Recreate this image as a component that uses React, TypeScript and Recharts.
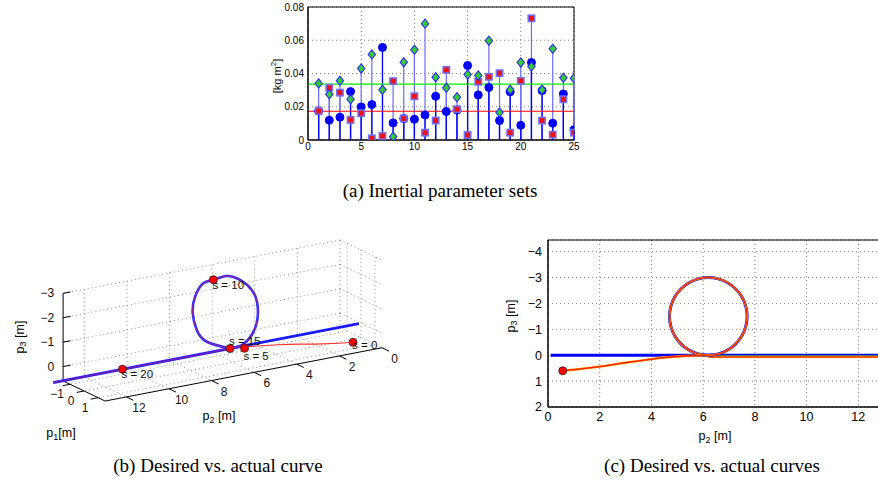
import React from "react";
import {
  ComposedChart, Scatter, Line, XAxis, YAxis, CartesianGrid,
  ReferenceLine, ReferenceArea, ErrorBar,
} from "recharts";

const SANS = "'Liberation Sans', Arial, Helvetica, sans-serif";
const SERIF = "'Liberation Serif', 'Times New Roman', serif";

// ---------- (a) inertial parameter sets ----------
const setIndex = [1, 2, 3, 4, 5, 6, 7, 8, 9, 10, 11, 12, 13, 14, 15, 16, 17, 18, 19, 20, 21, 22, 23, 24, 25];
const setCircle = [0.0175, 0.0119, 0.0137, 0.0291, 0.0199, 0.0213, 0.0557, 0.0103, 0.0129, 0.0125, 0.0151, 0.0263, 0.0171,
  0.018, 0.0448, 0.0271, 0.0316, 0.0117, 0.029, 0.0088, 0.0466, 0.0297, 0.0101, 0.0277, 0.0062];
const setSquare = [0.0175, 0.0314, 0.0285, 0.0121, 0.0161, 0.001, 0.0024, 0.0354, 0.0129, 0.0263, 0.0044, 0.0117, 0.0422,
  0.0185, 0.003, 0.035, 0.038, 0.0402, 0.0044, 0.0356, 0.0732, 0.0117, 0.0032, 0.0245, 0.0044];
const setDiamond = [0.034, 0.0275, 0.0356, 0.0245, 0.043, 0.0515, 0.0302, 0.002, 0.0468, 0.0543, 0.07, 0.0378, 0.0314,
  0.0257, 0.0394, 0.0388, 0.0597, 0.0165, 0.0302, 0.0466, 0.0442, 0.0302, 0.0549, 0.0374, 0.0372];
const meanGreen = 0.0336;
const meanRed = 0.0173;
const aXTicks = [0, 5, 10, 15, 20, 25];
const aYTicks = [0, 0.02, 0.04, 0.06, 0.08];

// ---------- (c) p2-p3 plane ----------
const desiredP2 = [0.1, 14.45];
const desiredP3 = [0, 0];
const circleP2 = [6.2, 6.59, 6.95, 7.26, 7.5, 7.65, 7.7, 7.65, 7.5, 7.26, 6.95, 6.59, 6.2, 5.81, 5.45, 5.14, 4.9, 4.75, 4.7, 4.75, 4.9, 5.14, 5.45, 5.81, 6.2];
const circleP3 = [0, -0.05, -0.2, -0.44, -0.75, -1.11, -1.5, -1.89, -2.25, -2.56, -2.8, -2.95, -3, -2.95, -2.8, -2.56, -2.25, -1.89, -1.5, -1.11, -0.75, -0.44, -0.2, -0.05, 0];
const approachP2 = [0.57, 1, 2, 3, 4, 4.5, 5, 5.5, 6, 6.2];
const approachP3 = [0.6, 0.56, 0.44, 0.29, 0.15, 0.09, 0.05, 0.02, 0.005, 0];
const tailP2 = [6.2, 14.45];
const tailGreenP3 = [0.03, 0.03];
const tailRedP3 = [0.07, 0.07];
const cXTicks = [0, 2, 4, 6, 8, 10, 12];
const cYTicks = [-4, -3, -2, -1, 0, 1, 2];

// ---------- (b) 3-D view ----------
const P1_LIM = [-1.5, 1.5];
const P2_LIM = [0, 13];
const P3_LIM = [-3, 0.59];
const p1Ticks = [-1, 0, 1];
const p2Ticks = [0, 2, 4, 6, 8, 10, 12];
const p3Ticks = [-3, -2, -1, 0];
const bDesiredP2 = [0.1, 14.45];
const bLoopP2 = [6.15, 7.24, 7.71, 7.9, 7.79, 7.4, 6.93, 6.31, 5.68, 5.13, 4.87, 4.87, 5.13, 5.6, 6.15];
const bLoopP3 = [0, -0.46, -1.02, -1.74, -2.4, -2.88, -2.95, -3.0, -2.73, -2.23, -1.64, -0.95, -0.38, -0.05, 0];
const bApproachP1 = [0.3, 0.28, 0.25, 0.22, 0.2, 0.15, 0.05, 0];
const bApproachP2 = [0.57, 1, 2, 3, 4, 5, 5.6, 6.15];
const bApproachP3 = [0.6, 0.56, 0.44, 0.29, 0.15, 0.05, 0.02, 0];
const sLabels = ["s = 0", "s = 5", "s = 10", "s = 15", "s = 20"];
const sP1 = [0.3, 0.2, 0, 0, 0];
const sP2 = [0.57, 5.6, 6.93, 6.15, 11.2];
const sP3 = [0.6, 0.03, -2.95, 0, 0];
const S_LABEL_DY = [3, 7.5, 5, -7.5, 5];

// camera (orthographic approximation of the view)
const O = [361, 323.3];
const U1 = [14, 6.7];
const U2 = [-21.3, 4.1];
const U3 = [0, 24.4];
const proj = (a: number, b: number, c: number) => ({
  x: O[0] + a * U1[0] + b * U2[0] + c * U3[0],
  y: O[1] + a * U1[1] + b * U2[1] + c * U3[1],
});

const zip = (xs: number[], ys: number[]) => xs.map((x, i) => ({ x, y: ys[i] }));
const stemRows = (vals: number[]) => setIndex.map((x, i) => ({ x, y: vals[i], err: [vals[i], 0] }));
const minus = (v: number) => (v < 0 ? `\u2212${Math.abs(v)}` : `${v}`);

const noShape = () => <g />;
const circleShape = (p: any) => <circle cx={p.cx} cy={p.cy} r={4} fill="#0000ff" stroke="#0000ff" />;
const squareShape = (p: any) => (
  <rect x={p.cx - 3.2} y={p.cy - 3.2} width={6.4} height={6.4} fill="#ee1111" stroke="#7070ff" strokeWidth={1.5} />
);
const diamondShape = (p: any) => (
  <path d={`M${p.cx},${p.cy - 4.6}L${p.cx + 3.7},${p.cy}L${p.cx},${p.cy + 4.6}L${p.cx - 3.7},${p.cy}Z`}
    fill="#33cc33" stroke="#2b2bff" strokeWidth={1.1} />
);
const redDot = (p: any) => <circle cx={p.cx} cy={p.cy} r={4} fill="#ff0000" stroke="#222" strokeWidth={0.8} />;
const textShape = (p: any) => (
  <text x={p.cx + (p.payload.dx || 0)} y={p.cy + (p.payload.dy || 0)} textAnchor={p.payload.anchor || "start"}
    dominantBaseline="central" fontSize={p.payload.fs || 12} fontFamily={SANS} fill="#111">{p.payload.t}</text>
);

const tickStyle = { fill: "#000", fontSize: 10, fontFamily: SANS };

function PanelA() {
  return (
    <div style={{ position: "absolute", left: 250, top: 0 }}>
      <ComposedChart width={340} height={160} margin={{ top: 7, right: 16, bottom: 0, left: 0 }}>
        <CartesianGrid strokeDasharray="1 3" stroke="#888" />
        <XAxis type="number" dataKey="x" domain={[0, 25]} ticks={aXTicks} allowDataOverflow height={20}
          tick={tickStyle} tickLine={false} tickSize={3} tickMargin={0} axisLine={{ stroke: "#000" }} />
        <YAxis type="number" dataKey="y" domain={[0, 0.08]} ticks={aYTicks} allowDataOverflow width={58}
          tick={tickStyle} tickLine={false} tickSize={3} tickMargin={1} axisLine={{ stroke: "#000" }}
          tickFormatter={(v: number) => (v === 0 ? "0" : v.toFixed(2))} />
        <ReferenceArea x1={0} x2={25} y1={0} y2={0.08} fill="none" stroke="#000" strokeWidth={1} ifOverflow="visible" />
        <Scatter data={stemRows(setDiamond)} shape={noShape} isAnimationActive={false}>
          <ErrorBar dataKey="err" direction="y" width={0} stroke="#6a6aff" strokeWidth={1.2} isAnimationActive={false} />
        </Scatter>
        <Scatter data={stemRows(setSquare)} shape={noShape} isAnimationActive={false}>
          <ErrorBar dataKey="err" direction="y" width={0} stroke="#6a6aff" strokeWidth={1.2} isAnimationActive={false} />
        </Scatter>
        <Scatter data={stemRows(setCircle)} shape={noShape} isAnimationActive={false}>
          <ErrorBar dataKey="err" direction="y" width={0} stroke="#0000ff" strokeWidth={1.3} isAnimationActive={false} />
        </Scatter>
        <ReferenceLine y={meanGreen} stroke="#00ee00" strokeWidth={1.3} />
        <ReferenceLine y={meanRed} stroke="#ff0000" strokeWidth={1.1} />
        <Scatter data={stemRows(setCircle)} shape={circleShape} isAnimationActive={false} />
        <Scatter data={stemRows(setSquare)} shape={squareShape} isAnimationActive={false} />
        <Scatter data={stemRows(setDiamond)} shape={diamondShape} isAnimationActive={false} />
      </ComposedChart>
    </div>
  );
}

function PanelB() {
  const [a0, a1] = P1_LIM;
  const [b0, b1] = P2_LIM;
  const [c0, c1] = P3_LIM;
  const grid = [
    ...p3Ticks.map((c) => [proj(a0, b0, c), proj(a0, b1, c)]),
    ...p2Ticks.map((b) => [proj(a0, b, c0), proj(a0, b, c1)]),
    ...p3Ticks.map((c) => [proj(a0, b0, c), proj(a1, b0, c)]),
    ...p1Ticks.map((a) => [proj(a, b0, c0), proj(a, b0, c1)]),
    ...p2Ticks.map((b) => [proj(a0, b, c1), proj(a1, b, c1)]),
    ...p1Ticks.map((a) => [proj(a, b0, c1), proj(a, b1, c1)]),
  ];
  const axes = [
    [proj(a0, b1, c0), proj(a0, b1, c1)],
    [proj(a0, b1, c1), proj(a1, b1, c1)],
    [proj(a1, b1, c1), proj(a1, b0, c1)],
    ...p2Ticks.map((b) => [proj(a1, b, c1), proj(a1 + 0.5, b, c1)]),
    ...p1Ticks.map((a) => [proj(a, b1, c1), proj(a, b1 + 0.35, c1)]),
    ...p3Ticks.map((c) => [proj(a0, b1, c), proj(a0, b1 - 0.35, c)]),
  ];
  const tickLabels = [
    ...p3Ticks.map((c) => ({ ...proj(a0, b1, c), t: minus(c), anchor: "end", dx: -9, dy: 0 })),
    ...p1Ticks.map((a) => ({ ...proj(a, b1, c1), t: minus(a), anchor: "middle", dx: -13, dy: 10 })),
    ...p2Ticks.map((b) => ({ ...proj(a1, b, c1), t: minus(b), anchor: "middle", dx: 12.6, dy: 11 })),
  ];
  const desired = bDesiredP2.map((b) => proj(0, b, 0));
  const loop = bLoopP2.map((b, i) => proj(0, b, bLoopP3[i]));
  const approach = bApproachP2.map((b, i) => proj(bApproachP1[i], b, bApproachP3[i]));
  const tail = [proj(0, 6.15, 0), proj(0, 14.45, 0)];
  const marks = sLabels.map((t, i) => ({ ...proj(sP1[i], sP2[i], sP3[i]), t, dx: -1, dy: S_LABEL_DY[i], fs: 11.5 }));
  return (
    <div style={{ position: "absolute", left: 0, top: 230 }}>
      <ComposedChart width={440} height={230} margin={{ top: 0, right: 0, bottom: 0, left: 0 }}>
        <XAxis type="number" dataKey="x" domain={[0, 440]} allowDataOverflow hide />
        <YAxis type="number" dataKey="y" domain={[230, 460]} reversed allowDataOverflow hide />
        {grid.map((s, i) => (
          <Line key={`g${i}`} data={s} dataKey="y" stroke="#777" strokeWidth={0.8} strokeDasharray="1 3"
            dot={false} activeDot={false} isAnimationActive={false} />
        ))}
        {axes.map((s, i) => (
          <Line key={`a${i}`} data={s} dataKey="y" stroke="#000" strokeWidth={1} dot={false} activeDot={false}
            isAnimationActive={false} />
        ))}
        <Line data={desired} dataKey="y" stroke="#1a1aff" strokeWidth={2.8} dot={false} isAnimationActive={false} />
        <Line data={tail} dataKey="y" stroke="#d0206a" strokeOpacity={0.55} strokeWidth={1.3} dot={false} isAnimationActive={false} />
        <Line data={approach} dataKey="y" type="natural" stroke="#ff3030" strokeWidth={1.1} dot={false} isAnimationActive={false} />
        <Line data={loop} dataKey="y" type="natural" stroke="#2a2aff" strokeWidth={2.6} dot={false} isAnimationActive={false} />
        <Line data={loop} dataKey="y" type="natural" stroke="#ee2050" strokeOpacity={0.6} strokeWidth={1} dot={false} isAnimationActive={false} />
        <Scatter data={marks} shape={redDot} isAnimationActive={false} />
        <Scatter data={marks} shape={textShape} isAnimationActive={false} />
        <Scatter data={tickLabels} shape={textShape} isAnimationActive={false} />
      </ComposedChart>
    </div>
  );
}

function PanelC() {
  const cTick = { fill: "#000", fontSize: 12.5, fontFamily: SANS };
  return (
    <div style={{ position: "absolute", left: 518, top: 230 }}>
      <ComposedChart width={392} height={197} margin={{ top: 10, right: 0, bottom: 0, left: 0 }}>
        <CartesianGrid strokeDasharray="1 3" stroke="#888" />
        <XAxis type="number" dataKey="x" domain={[0, 14]} ticks={cXTicks} allowDataOverflow height={20}
          tick={cTick} tickLine={false} tickSize={3} tickMargin={2} axisLine={{ stroke: "#000" }} />
        <YAxis type="number" dataKey="y" domain={[-4.45, 2]} ticks={cYTicks} reversed allowDataOverflow width={30}
          tick={cTick} tickLine={false} tickSize={3} tickMargin={3} axisLine={{ stroke: "#000" }} tickFormatter={minus} />
        <ReferenceArea x1={0} x2={14} y1={-4.45} y2={2} fill="none" stroke="#000" strokeWidth={1} ifOverflow="visible" />
        <Line data={zip(desiredP2, desiredP3)} dataKey="y" stroke="#0000ff" strokeWidth={3} dot={false} isAnimationActive={false} />
        <Line data={zip(tailP2, tailGreenP3)} dataKey="y" stroke="#55aa22" strokeWidth={1.3} dot={false} isAnimationActive={false} />
        <Line data={zip(tailP2, tailRedP3)} dataKey="y" stroke="#ff9900" strokeWidth={2} dot={false} isAnimationActive={false} />
        <Line data={zip(tailP2, tailRedP3)} dataKey="y" stroke="#ff1a00" strokeWidth={1} dot={false} isAnimationActive={false} />
        <Line data={zip(circleP2, circleP3)} dataKey="y" type="natural" stroke="#0000ff" strokeWidth={3} dot={false} isAnimationActive={false} />
        <Line data={zip(circleP2, circleP3)} dataKey="y" type="natural" stroke="#ff9900" strokeWidth={2} dot={false} isAnimationActive={false} />
        <Line data={zip(circleP2, circleP3)} dataKey="y" type="natural" stroke="#ff1a00" strokeWidth={1.1} dot={false} isAnimationActive={false} />
        <Line data={zip(approachP2, approachP3)} dataKey="y" type="natural" stroke="#ff9900" strokeWidth={2.4} dot={false} isAnimationActive={false} />
        <Line data={zip(approachP2, approachP3)} dataKey="y" type="natural" stroke="#ff1a00" strokeWidth={1.3} dot={false} isAnimationActive={false} />
        <Scatter data={zip([approachP2[0]], [approachP3[0]])} shape={redDot} isAnimationActive={false} />
      </ComposedChart>
    </div>
  );
}

function Texts() {
  const lab = { fontFamily: SANS, fontSize: 12.5, fill: "#000" };
  const cap = { fontFamily: SERIF, fontSize: 19, fill: "#000", textAnchor: "middle" as const };
  return (
    <svg width={878} height={483} style={{ position: "absolute", left: 0, top: 0, pointerEvents: "none" }}>
      <text transform="translate(277,76) rotate(-90)" textAnchor="middle" dominantBaseline="central"
        fontFamily={SANS} fontSize={11} fill="#000">
        [kg m<tspan dy={-4} fontSize={8}>2</tspan><tspan dy={4}>]</tspan>
      </text>
      <text transform="translate(20,337) rotate(-90)" textAnchor="middle" dominantBaseline="central" {...lab}>
        p<tspan dy={3} fontSize={9}>3</tspan><tspan dy={-3}> [m]</tspan>
      </text>
      <text x={219} y={420} textAnchor="middle" {...lab}>
        p<tspan dy={3} fontSize={9}>2</tspan><tspan dy={-3}> [m]</tspan>
      </text>
      <text x={61} y={437} textAnchor="middle" {...lab}>
        p<tspan dy={3} fontSize={9}>1</tspan><tspan dy={-3}>[m]</tspan>
      </text>
      <text transform="translate(511,316) rotate(-90)" textAnchor="middle" dominantBaseline="central" {...lab}>
        p<tspan dy={3} fontSize={9}>3</tspan><tspan dy={-3}> [m]</tspan>
      </text>
      <text x={715} y={440} textAnchor="middle" {...lab}>
        p<tspan dy={3} fontSize={9}>2</tspan><tspan dy={-3}> [m]</tspan>
      </text>
      <text x={440} y={196.5} {...cap}>(a) Inertial parameter sets</text>
      <text x={218} y={471.7} {...cap}>(b) Desired vs. actual curve</text>
      <text x={712} y={471.7} {...cap}>(c) Desired vs. actual curves</text>
    </svg>
  );
}

export default function App() {
  return (
    <div style={{ position: "absolute", left: 0, top: 0, width: 878, height: 483, overflow: "hidden", background: "#fff" }}>
      <PanelA />
      <PanelB />
      <PanelC />
      <Texts />
    </div>
  );
}
